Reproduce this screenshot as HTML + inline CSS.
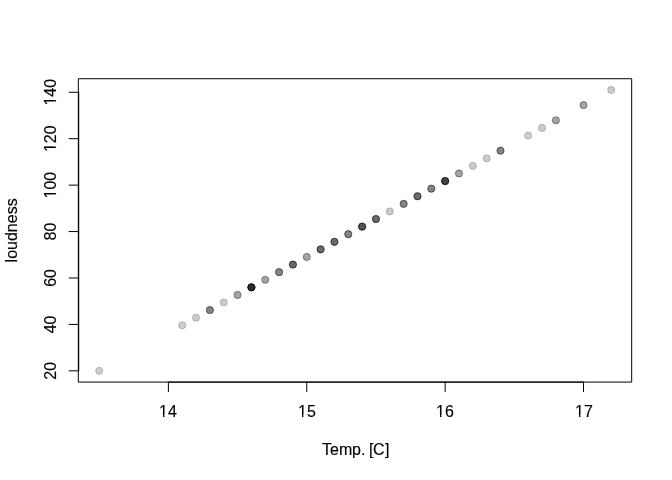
<!DOCTYPE html>
<html><head><meta charset="utf-8"><title>plot</title>
<style>html,body{margin:0;padding:0;background:#fff}svg{display:block;will-change:transform}text{font-family:"Liberation Sans",sans-serif;font-size:16px;fill:#000;stroke:#000;stroke-width:0.15px}</style></head><body>
<svg width="672" height="480" viewBox="0 0 672 480">
<g>
<circle cx="99.20" cy="370.84" r="3.6" fill="rgba(0,0,0,0.2)" stroke="rgba(0,0,0,0.2)" stroke-width="1"/>
<circle cx="182.23" cy="325.29" r="3.6" fill="rgba(0,0,0,0.2)" stroke="rgba(0,0,0,0.2)" stroke-width="1"/>
<circle cx="196.07" cy="317.70" r="3.6" fill="rgba(0,0,0,0.2)" stroke="rgba(0,0,0,0.2)" stroke-width="1"/>
<circle cx="209.90" cy="310.11" r="3.6" fill="rgba(0,0,0,0.2)" stroke="rgba(0,0,0,0.2)" stroke-width="1"/>
<circle cx="209.90" cy="310.11" r="3.6" fill="rgba(0,0,0,0.2)" stroke="rgba(0,0,0,0.2)" stroke-width="1"/>
<circle cx="209.90" cy="310.11" r="3.6" fill="rgba(0,0,0,0.2)" stroke="rgba(0,0,0,0.2)" stroke-width="1"/>
<circle cx="223.74" cy="302.52" r="3.6" fill="rgba(0,0,0,0.2)" stroke="rgba(0,0,0,0.2)" stroke-width="1"/>
<circle cx="237.58" cy="294.92" r="3.6" fill="rgba(0,0,0,0.2)" stroke="rgba(0,0,0,0.2)" stroke-width="1"/>
<circle cx="237.58" cy="294.92" r="3.6" fill="rgba(0,0,0,0.2)" stroke="rgba(0,0,0,0.2)" stroke-width="1"/>
<circle cx="251.42" cy="287.33" r="3.6" fill="rgba(0,0,0,0.2)" stroke="rgba(0,0,0,0.2)" stroke-width="1"/>
<circle cx="251.42" cy="287.33" r="3.6" fill="rgba(0,0,0,0.2)" stroke="rgba(0,0,0,0.2)" stroke-width="1"/>
<circle cx="251.42" cy="287.33" r="3.6" fill="rgba(0,0,0,0.2)" stroke="rgba(0,0,0,0.2)" stroke-width="1"/>
<circle cx="251.42" cy="287.33" r="3.6" fill="rgba(0,0,0,0.2)" stroke="rgba(0,0,0,0.2)" stroke-width="1"/>
<circle cx="251.42" cy="287.33" r="3.6" fill="rgba(0,0,0,0.2)" stroke="rgba(0,0,0,0.2)" stroke-width="1"/>
<circle cx="251.42" cy="287.33" r="3.6" fill="rgba(0,0,0,0.2)" stroke="rgba(0,0,0,0.2)" stroke-width="1"/>
<circle cx="251.42" cy="287.33" r="3.6" fill="rgba(0,0,0,0.2)" stroke="rgba(0,0,0,0.2)" stroke-width="1"/>
<circle cx="251.42" cy="287.33" r="3.6" fill="rgba(0,0,0,0.2)" stroke="rgba(0,0,0,0.2)" stroke-width="1"/>
<circle cx="265.26" cy="279.74" r="3.6" fill="rgba(0,0,0,0.2)" stroke="rgba(0,0,0,0.2)" stroke-width="1"/>
<circle cx="265.26" cy="279.74" r="3.6" fill="rgba(0,0,0,0.2)" stroke="rgba(0,0,0,0.2)" stroke-width="1"/>
<circle cx="279.09" cy="272.15" r="3.6" fill="rgba(0,0,0,0.2)" stroke="rgba(0,0,0,0.2)" stroke-width="1"/>
<circle cx="279.09" cy="272.15" r="3.6" fill="rgba(0,0,0,0.2)" stroke="rgba(0,0,0,0.2)" stroke-width="1"/>
<circle cx="279.09" cy="272.15" r="3.6" fill="rgba(0,0,0,0.2)" stroke="rgba(0,0,0,0.2)" stroke-width="1"/>
<circle cx="292.93" cy="264.56" r="3.6" fill="rgba(0,0,0,0.2)" stroke="rgba(0,0,0,0.2)" stroke-width="1"/>
<circle cx="292.93" cy="264.56" r="3.6" fill="rgba(0,0,0,0.2)" stroke="rgba(0,0,0,0.2)" stroke-width="1"/>
<circle cx="292.93" cy="264.56" r="3.6" fill="rgba(0,0,0,0.2)" stroke="rgba(0,0,0,0.2)" stroke-width="1"/>
<circle cx="292.93" cy="264.56" r="3.6" fill="rgba(0,0,0,0.2)" stroke="rgba(0,0,0,0.2)" stroke-width="1"/>
<circle cx="306.77" cy="256.97" r="3.6" fill="rgba(0,0,0,0.2)" stroke="rgba(0,0,0,0.2)" stroke-width="1"/>
<circle cx="306.77" cy="256.97" r="3.6" fill="rgba(0,0,0,0.2)" stroke="rgba(0,0,0,0.2)" stroke-width="1"/>
<circle cx="320.61" cy="249.37" r="3.6" fill="rgba(0,0,0,0.2)" stroke="rgba(0,0,0,0.2)" stroke-width="1"/>
<circle cx="320.61" cy="249.37" r="3.6" fill="rgba(0,0,0,0.2)" stroke="rgba(0,0,0,0.2)" stroke-width="1"/>
<circle cx="320.61" cy="249.37" r="3.6" fill="rgba(0,0,0,0.2)" stroke="rgba(0,0,0,0.2)" stroke-width="1"/>
<circle cx="320.61" cy="249.37" r="3.6" fill="rgba(0,0,0,0.2)" stroke="rgba(0,0,0,0.2)" stroke-width="1"/>
<circle cx="334.45" cy="241.78" r="3.6" fill="rgba(0,0,0,0.2)" stroke="rgba(0,0,0,0.2)" stroke-width="1"/>
<circle cx="334.45" cy="241.78" r="3.6" fill="rgba(0,0,0,0.2)" stroke="rgba(0,0,0,0.2)" stroke-width="1"/>
<circle cx="334.45" cy="241.78" r="3.6" fill="rgba(0,0,0,0.2)" stroke="rgba(0,0,0,0.2)" stroke-width="1"/>
<circle cx="334.45" cy="241.78" r="3.6" fill="rgba(0,0,0,0.2)" stroke="rgba(0,0,0,0.2)" stroke-width="1"/>
<circle cx="348.28" cy="234.19" r="3.6" fill="rgba(0,0,0,0.2)" stroke="rgba(0,0,0,0.2)" stroke-width="1"/>
<circle cx="348.28" cy="234.19" r="3.6" fill="rgba(0,0,0,0.2)" stroke="rgba(0,0,0,0.2)" stroke-width="1"/>
<circle cx="348.28" cy="234.19" r="3.6" fill="rgba(0,0,0,0.2)" stroke="rgba(0,0,0,0.2)" stroke-width="1"/>
<circle cx="362.12" cy="226.60" r="3.6" fill="rgba(0,0,0,0.2)" stroke="rgba(0,0,0,0.2)" stroke-width="1"/>
<circle cx="362.12" cy="226.60" r="3.6" fill="rgba(0,0,0,0.2)" stroke="rgba(0,0,0,0.2)" stroke-width="1"/>
<circle cx="362.12" cy="226.60" r="3.6" fill="rgba(0,0,0,0.2)" stroke="rgba(0,0,0,0.2)" stroke-width="1"/>
<circle cx="362.12" cy="226.60" r="3.6" fill="rgba(0,0,0,0.2)" stroke="rgba(0,0,0,0.2)" stroke-width="1"/>
<circle cx="362.12" cy="226.60" r="3.6" fill="rgba(0,0,0,0.2)" stroke="rgba(0,0,0,0.2)" stroke-width="1"/>
<circle cx="375.96" cy="219.01" r="3.6" fill="rgba(0,0,0,0.2)" stroke="rgba(0,0,0,0.2)" stroke-width="1"/>
<circle cx="375.96" cy="219.01" r="3.6" fill="rgba(0,0,0,0.2)" stroke="rgba(0,0,0,0.2)" stroke-width="1"/>
<circle cx="375.96" cy="219.01" r="3.6" fill="rgba(0,0,0,0.2)" stroke="rgba(0,0,0,0.2)" stroke-width="1"/>
<circle cx="375.96" cy="219.01" r="3.6" fill="rgba(0,0,0,0.2)" stroke="rgba(0,0,0,0.2)" stroke-width="1"/>
<circle cx="389.80" cy="211.42" r="3.6" fill="rgba(0,0,0,0.2)" stroke="rgba(0,0,0,0.2)" stroke-width="1"/>
<circle cx="403.64" cy="203.82" r="3.6" fill="rgba(0,0,0,0.2)" stroke="rgba(0,0,0,0.2)" stroke-width="1"/>
<circle cx="403.64" cy="203.82" r="3.6" fill="rgba(0,0,0,0.2)" stroke="rgba(0,0,0,0.2)" stroke-width="1"/>
<circle cx="403.64" cy="203.82" r="3.6" fill="rgba(0,0,0,0.2)" stroke="rgba(0,0,0,0.2)" stroke-width="1"/>
<circle cx="417.47" cy="196.23" r="3.6" fill="rgba(0,0,0,0.2)" stroke="rgba(0,0,0,0.2)" stroke-width="1"/>
<circle cx="417.47" cy="196.23" r="3.6" fill="rgba(0,0,0,0.2)" stroke="rgba(0,0,0,0.2)" stroke-width="1"/>
<circle cx="417.47" cy="196.23" r="3.6" fill="rgba(0,0,0,0.2)" stroke="rgba(0,0,0,0.2)" stroke-width="1"/>
<circle cx="417.47" cy="196.23" r="3.6" fill="rgba(0,0,0,0.2)" stroke="rgba(0,0,0,0.2)" stroke-width="1"/>
<circle cx="431.31" cy="188.64" r="3.6" fill="rgba(0,0,0,0.2)" stroke="rgba(0,0,0,0.2)" stroke-width="1"/>
<circle cx="431.31" cy="188.64" r="3.6" fill="rgba(0,0,0,0.2)" stroke="rgba(0,0,0,0.2)" stroke-width="1"/>
<circle cx="431.31" cy="188.64" r="3.6" fill="rgba(0,0,0,0.2)" stroke="rgba(0,0,0,0.2)" stroke-width="1"/>
<circle cx="445.15" cy="181.05" r="3.6" fill="rgba(0,0,0,0.2)" stroke="rgba(0,0,0,0.2)" stroke-width="1"/>
<circle cx="445.15" cy="181.05" r="3.6" fill="rgba(0,0,0,0.2)" stroke="rgba(0,0,0,0.2)" stroke-width="1"/>
<circle cx="445.15" cy="181.05" r="3.6" fill="rgba(0,0,0,0.2)" stroke="rgba(0,0,0,0.2)" stroke-width="1"/>
<circle cx="445.15" cy="181.05" r="3.6" fill="rgba(0,0,0,0.2)" stroke="rgba(0,0,0,0.2)" stroke-width="1"/>
<circle cx="445.15" cy="181.05" r="3.6" fill="rgba(0,0,0,0.2)" stroke="rgba(0,0,0,0.2)" stroke-width="1"/>
<circle cx="445.15" cy="181.05" r="3.6" fill="rgba(0,0,0,0.2)" stroke="rgba(0,0,0,0.2)" stroke-width="1"/>
<circle cx="458.99" cy="173.46" r="3.6" fill="rgba(0,0,0,0.2)" stroke="rgba(0,0,0,0.2)" stroke-width="1"/>
<circle cx="458.99" cy="173.46" r="3.6" fill="rgba(0,0,0,0.2)" stroke="rgba(0,0,0,0.2)" stroke-width="1"/>
<circle cx="472.83" cy="165.87" r="3.6" fill="rgba(0,0,0,0.2)" stroke="rgba(0,0,0,0.2)" stroke-width="1"/>
<circle cx="486.66" cy="158.28" r="3.6" fill="rgba(0,0,0,0.2)" stroke="rgba(0,0,0,0.2)" stroke-width="1"/>
<circle cx="500.50" cy="150.68" r="3.6" fill="rgba(0,0,0,0.2)" stroke="rgba(0,0,0,0.2)" stroke-width="1"/>
<circle cx="500.50" cy="150.68" r="3.6" fill="rgba(0,0,0,0.2)" stroke="rgba(0,0,0,0.2)" stroke-width="1"/>
<circle cx="500.50" cy="150.68" r="3.6" fill="rgba(0,0,0,0.2)" stroke="rgba(0,0,0,0.2)" stroke-width="1"/>
<circle cx="528.18" cy="135.50" r="3.6" fill="rgba(0,0,0,0.2)" stroke="rgba(0,0,0,0.2)" stroke-width="1"/>
<circle cx="542.02" cy="127.91" r="3.6" fill="rgba(0,0,0,0.2)" stroke="rgba(0,0,0,0.2)" stroke-width="1"/>
<circle cx="555.85" cy="120.32" r="3.6" fill="rgba(0,0,0,0.2)" stroke="rgba(0,0,0,0.2)" stroke-width="1"/>
<circle cx="555.85" cy="120.32" r="3.6" fill="rgba(0,0,0,0.2)" stroke="rgba(0,0,0,0.2)" stroke-width="1"/>
<circle cx="583.53" cy="105.13" r="3.6" fill="rgba(0,0,0,0.2)" stroke="rgba(0,0,0,0.2)" stroke-width="1"/>
<circle cx="583.53" cy="105.13" r="3.6" fill="rgba(0,0,0,0.2)" stroke="rgba(0,0,0,0.2)" stroke-width="1"/>
<circle cx="611.21" cy="89.95" r="3.6" fill="rgba(0,0,0,0.2)" stroke="rgba(0,0,0,0.2)" stroke-width="1"/>
</g>
<g stroke="#000" stroke-width="1" fill="none" stroke-linecap="round" stroke-linejoin="round">
<path d="M168.39 382.08H583.53"/>
<path d="M168.39 382.08V391.68"/>
<path d="M306.77 382.08V391.68"/>
<path d="M445.15 382.08V391.68"/>
<path d="M583.53 382.08V391.68"/>
<path d="M78.72 370.84V92.27"/>
<path d="M78.72 370.84H69.12"/>
<path d="M78.72 324.41H69.12"/>
<path d="M78.72 277.98H69.12"/>
<path d="M78.72 231.56H69.12"/>
<path d="M78.72 185.13H69.12"/>
<path d="M78.72 138.7H69.12"/>
<path d="M78.72 92.27H69.12"/>
<rect x="78.72" y="78.72" width="552.96" height="303.36"/>
</g>
<g transform="translate(0 417)"><text x="159 168" y="0">14</text><rect x="158.70" y="-2.1" width="4.32" height="2.9" fill="#fff"/><rect x="164.44" y="-2.1" width="3.86" height="2.9" fill="#fff"/></g>
<g transform="translate(0 417)"><text x="298 307" y="0">15</text><rect x="297.70" y="-2.1" width="4.32" height="2.9" fill="#fff"/><rect x="303.44" y="-2.1" width="3.86" height="2.9" fill="#fff"/></g>
<g transform="translate(0 417)"><text x="436 445" y="0">16</text><rect x="435.70" y="-2.1" width="4.32" height="2.9" fill="#fff"/><rect x="441.44" y="-2.1" width="3.86" height="2.9" fill="#fff"/></g>
<g transform="translate(0 417)"><text x="575 584" y="0">17</text><rect x="574.70" y="-2.1" width="4.32" height="2.9" fill="#fff"/><rect x="580.44" y="-2.1" width="3.86" height="2.9" fill="#fff"/></g>
<g transform="translate(56 370.84) rotate(-90)"><text x="0" y="0" text-anchor="middle">20</text></g>
<g transform="translate(56 324.41) rotate(-90)"><text x="0" y="0" text-anchor="middle">40</text></g>
<g transform="translate(56 277.98) rotate(-90)"><text x="0" y="0" text-anchor="middle">60</text></g>
<g transform="translate(56 231.56) rotate(-90)"><text x="0" y="0" text-anchor="middle">80</text></g>
<g transform="translate(56 185.13) rotate(-90)"><text x="0" y="0" text-anchor="middle">100</text><rect x="-13.65" y="-2.1" width="4.32" height="2.9" fill="#fff"/><rect x="-7.91" y="-2.1" width="3.86" height="2.9" fill="#fff"/></g>
<g transform="translate(56 138.7) rotate(-90)"><text x="0" y="0" text-anchor="middle">120</text><rect x="-13.65" y="-2.1" width="4.32" height="2.9" fill="#fff"/><rect x="-7.91" y="-2.1" width="3.86" height="2.9" fill="#fff"/></g>
<g transform="translate(56 92.27) rotate(-90)"><text x="0" y="0" text-anchor="middle">140</text><rect x="-13.65" y="-2.1" width="4.32" height="2.9" fill="#fff"/><rect x="-7.91" y="-2.1" width="3.86" height="2.9" fill="#fff"/></g>
<text x="322 330 339 352 361 365 369 373 385" y="455">Temp. [C]</text>
<text transform="translate(17.4 230.4) rotate(-90)" text-anchor="middle">loudness</text>
</svg></body></html>
